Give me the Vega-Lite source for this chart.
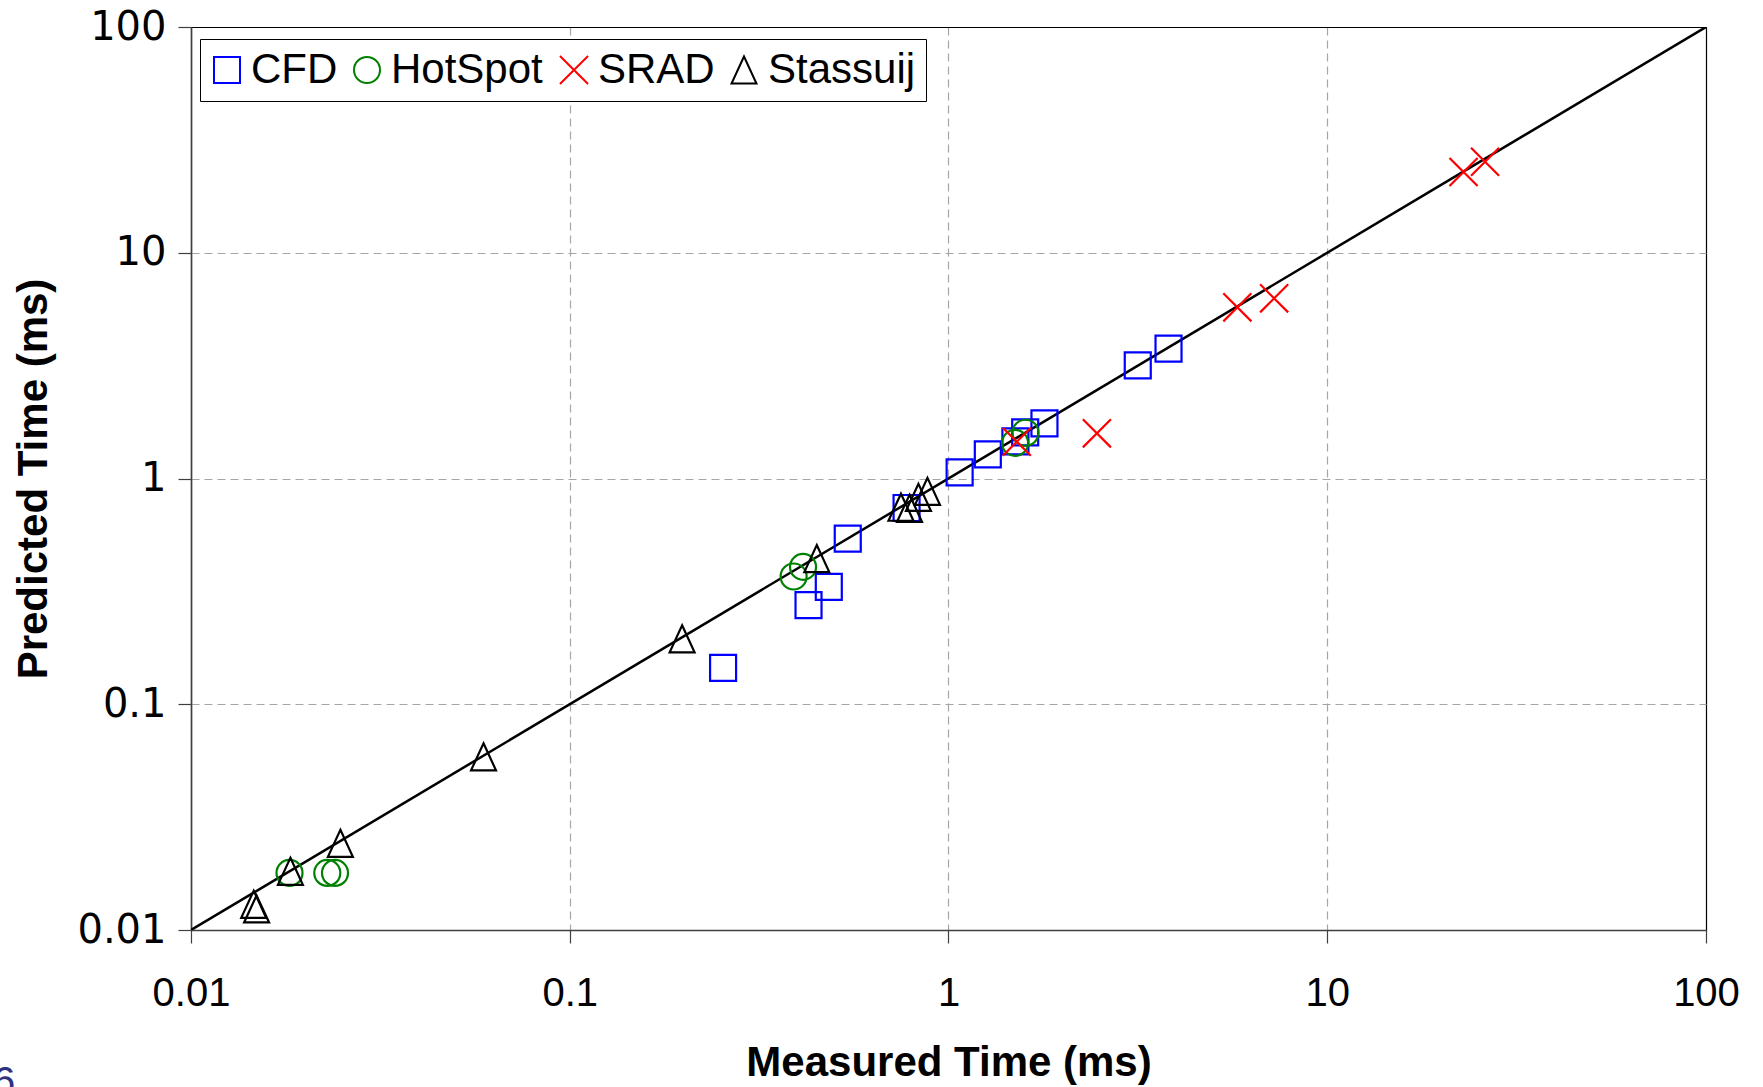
{
  "$schema": "https://vega.github.io/schema/vega-lite/v6.json",
  "width": 1515,
  "height": 903,
  "autosize": {"type": "none"},
  "padding": {"left": 191, "top": 27, "right": 57, "bottom": 157},
  "background": "white",
  "title": {
    "text": "6",
    "orient": "bottom",
    "anchor": "start",
    "frame": "group",
    "dx": -198,
    "offset": -20,
    "baseline": "top",
    "font": "Liberation Sans",
    "fontSize": 40,
    "fontWeight": "normal",
    "color": "#2E3180"
  },
  "config": {
    "view": {"stroke": "#000000", "strokeWidth": 1},
    "axis": {
      "grid": true,
      "gridColor": {"condition": {"test": "datum.value >= 100 || datum.value <= 0.01", "value": "#000000"}, "value": "#a6a6a6"},
      "gridDash": {"condition": {"test": "datum.value >= 100 || datum.value <= 0.01", "value": []}, "value": [8, 5]},
      "gridWidth": 1.2,
      "domainColor": "#404040",
      "domainWidth": 1.5,
      "tickColor": "#404040",
      "tickWidth": 1.2,
      "tickSize": 13,
      "labelColor": "#000000",
      "labelFontSize": 40,
      "labelFlush": false,
      "labelOverlap": false,
      "titleColor": "#000000",
      "titleFont": "Liberation Sans",
      "titleFontSize": 42,
      "titleFontWeight": "bold"
    },
    "legend": {
      "orient": "none",
      "legendX": 9,
      "legendY": 12,
      "direction": "horizontal",
      "columns": 4,
      "strokeColor": "#000000",
      "fillColor": "#ffffff",
      "padding": 10,
      "labelFont": "Liberation Sans",
      "labelFontSize": 42,
      "labelColor": "#000000",
      "labelOffset": 3,
      "labelLimit": 400,
      "columnPadding": 12,
      "symbolOffset": -4,
      "symbolSize": 676,
      "symbolStrokeWidth": 2
    }
  },
  "datasets": {
    "diag": [
      {"measured": 0.01, "predicted": 0.01},
      {"measured": 100, "predicted": 100}
    ],
    "pts": [
      {"series": "CFD", "measured": 0.254, "predicted": 0.145},
      {"series": "CFD", "measured": 0.427, "predicted": 0.275},
      {"series": "CFD", "measured": 0.483, "predicted": 0.331},
      {"series": "CFD", "measured": 0.542, "predicted": 0.542},
      {"series": "CFD", "measured": 0.775, "predicted": 0.74},
      {"series": "CFD", "measured": 1.07, "predicted": 1.065},
      {"series": "CFD", "measured": 1.27, "predicted": 1.28},
      {"series": "CFD", "measured": 1.502, "predicted": 1.459},
      {"series": "CFD", "measured": 1.594, "predicted": 1.6},
      {"series": "CFD", "measured": 1.792, "predicted": 1.755},
      {"series": "CFD", "measured": 3.16, "predicted": 3.17},
      {"series": "CFD", "measured": 3.81, "predicted": 3.76},
      {"series": "HotSpot", "measured": 0.0182, "predicted": 0.0179},
      {"series": "HotSpot", "measured": 0.0229, "predicted": 0.0179},
      {"series": "HotSpot", "measured": 0.024, "predicted": 0.0179},
      {"series": "HotSpot", "measured": 0.39, "predicted": 0.368},
      {"series": "HotSpot", "measured": 0.413, "predicted": 0.406},
      {"series": "HotSpot", "measured": 1.499, "predicted": 1.438},
      {"series": "HotSpot", "measured": 1.597, "predicted": 1.595},
      {"series": "SRAD", "measured": 1.515, "predicted": 1.455},
      {"series": "SRAD", "measured": 2.465, "predicted": 1.585},
      {"series": "SRAD", "measured": 5.79, "predicted": 5.73},
      {"series": "SRAD", "measured": 7.24, "predicted": 6.28},
      {"series": "SRAD", "measured": 22.9, "predicted": 22.8},
      {"series": "SRAD", "measured": 26.1, "predicted": 25.3},
      {"series": "Stassuij", "measured": 0.01464, "predicted": 0.013},
      {"series": "Stassuij", "measured": 0.0149, "predicted": 0.0124},
      {"series": "Stassuij", "measured": 0.0183, "predicted": 0.0182},
      {"series": "Stassuij", "measured": 0.0248, "predicted": 0.0242},
      {"series": "Stassuij", "measured": 0.0592, "predicted": 0.0585},
      {"series": "Stassuij", "measured": 0.198, "predicted": 0.195},
      {"series": "Stassuij", "measured": 0.449, "predicted": 0.442},
      {"series": "Stassuij", "measured": 0.749, "predicted": 0.746},
      {"series": "Stassuij", "measured": 0.789, "predicted": 0.738},
      {"series": "Stassuij", "measured": 0.833, "predicted": 0.825},
      {"series": "Stassuij", "measured": 0.88, "predicted": 0.877}
    ]
  },
  "layer": [
    {
      "data": {"name": "diag"},
      "mark": {"type": "line", "color": "#000000", "strokeWidth": 2.5, "clip": true},
      "encoding": {
        "x": {
          "field": "measured",
          "type": "quantitative",
          "scale": {"type": "log", "domain": [0.01, 100], "nice": false},
          "axis": {
            "values": [0.01, 0.1, 1, 10, 100],
            "format": "~g",
            "labelFont": "Liberation Sans",
            "labelPadding": 30,
            "title": "Measured Time (ms)",
            "titleY": 145,
            "titleBaseline": "alphabetic"
          }
        },
        "y": {
          "field": "predicted",
          "type": "quantitative",
          "scale": {"type": "log", "domain": [0.01, 100], "nice": false},
          "axis": {
            "values": [0.01, 0.1, 1, 10, 100],
            "format": "~g",
            "labelFont": "DejaVu Sans",
            "labelPadding": 12,
            "title": "Predicted Time (ms)",
            "titleX": -145,
            "titleBaseline": "alphabetic"
          }
        }
      }
    },
    {
      "data": {"name": "pts"},
      "mark": {"type": "point", "filled": false, "strokeWidth": 2.2, "size": 676, "opacity": 1},
      "encoding": {
        "x": {"field": "measured", "type": "quantitative"},
        "y": {"field": "predicted", "type": "quantitative"},
        "color": {
          "field": "series",
          "type": "nominal",
          "scale": {
            "domain": ["CFD", "HotSpot", "SRAD", "Stassuij"],
            "range": ["#0000ff", "#008000", "#ff0000", "#000000"]
          },
          "legend": {"title": null}
        },
        "shape": {
          "field": "series",
          "type": "nominal",
          "scale": {
            "domain": ["CFD", "HotSpot", "SRAD", "Stassuij"],
            "range": ["square", "circle", "M-1.08,-1.08L1.08,1.08M1.08,-1.08L-1.08,1.08", "M0,-1.04L0.96,1.04L-0.96,1.04Z"]
          },
          "legend": {"title": null}
        }
      }
    }
  ]
}
